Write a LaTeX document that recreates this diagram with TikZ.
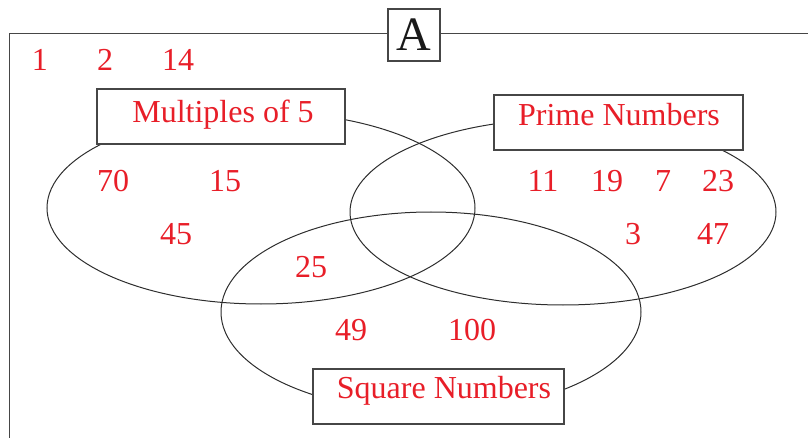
\documentclass[tikz,border=0pt]{standalone}
\usepackage{fontspec}
\setmainfont{Liberation Serif}
\usetikzlibrary{shapes.geometric}
\definecolor{numred}{RGB}{232,30,40}
\definecolor{linegray}{RGB}{45,45,45}
\definecolor{boxgray}{RGB}{70,70,70}
\begin{document}
\begin{tikzpicture}[x=0.5pt,y=-0.5pt,
  setellipse/.style={draw=linegray,line width=0.5pt,ellipse,inner sep=0pt},
  labelbox/.style={draw=boxgray,line width=0.55pt,fill=white,rectangle,inner sep=0pt},
  settext/.style={text=numred,font=\fontsize{16}{18}\selectfont,inner sep=0pt},
  num/.style={text=numred,font=\fontsize{16}{18}\selectfont,inner sep=0pt}]
\useasboundingbox (0,0) rectangle (808,438);
% frame
\coordinate (fbl) at (9.5,438);
\coordinate (ftl) at (9.5,33.5);
\coordinate (ftr) at (808,33.5);
\draw[boxgray,line width=0.55pt] (fbl) -- (ftl) -- (ftr);
\node[labelbox,minimum width=26pt,minimum height=26pt,font=\fontsize{24}{26}\selectfont,text=black!90] (A) at (414,35) {A};
% ellipses
\node[setellipse,minimum width=214pt,minimum height=96pt] (mult) at (261,208) {};
\node[setellipse,minimum width=213pt,minimum height=93pt] (prime) at (563,212) {};
\node[setellipse,minimum width=210pt,minimum height=100pt] (square) at (431,312) {};
% label boxes
\node[labelbox,minimum width=124pt,minimum height=27.5pt] (multbox) at (221,116.5) {};
\node[labelbox,minimum width=124.5pt,minimum height=27.5pt] (primebox) at (618.5,122.5) {};
\node[labelbox,minimum width=125.5pt,minimum height=27.5pt] (squarebox) at (438.5,396.5) {};
\node[settext] (multtxt) at (223,115) {Multiples of 5};
\node[settext] (primetxt) at (619,115) {Prime Numbers};
\node[settext] (squaretxt) at (444,391) {Square Numbers};
% numbers
\node[num] (n1) at (40,60) {1};
\node[num] (n2) at (105,60) {2};
\node[num] (n14) at (178,60) {14};
\node[num] (n70) at (113,181) {70};
\node[num] (n15) at (225,181) {15};
\node[num] (n45) at (176,234) {45};
\node[num] (n25) at (311,267) {25};
\node[num] (n11) at (543,181) {11};
\node[num] (n19) at (607,181) {19};
\node[num] (n7) at (663,181) {7};
\node[num] (n23) at (718,181) {23};
\node[num] (n3) at (633,234) {3};
\node[num] (n47) at (713,234) {47};
\node[num] (n49) at (351,330) {49};
\node[num] (n100) at (472,330) {100};
\end{tikzpicture}
\end{document}
